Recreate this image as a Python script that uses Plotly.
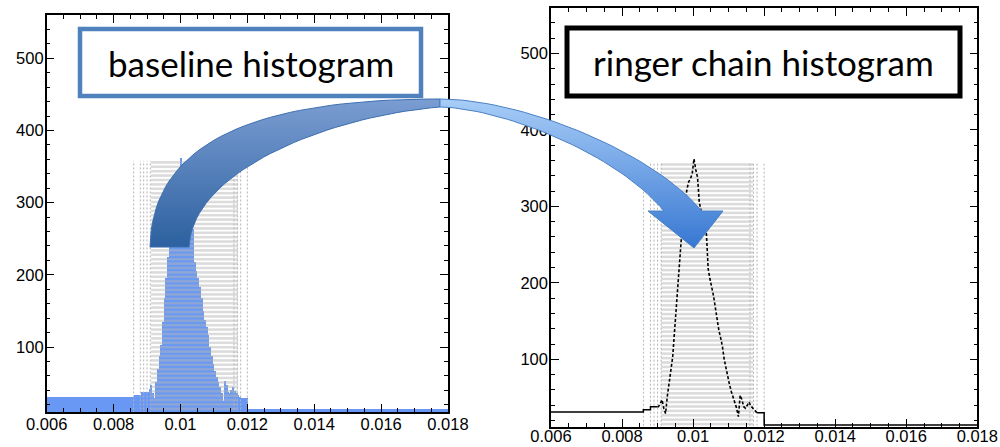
import numpy as np
import plotly.graph_objects as go

W, H = 1000, 447

# ---------------- data ----------------
x_ticks = [0.006, 0.008, 0.010, 0.012, 0.014, 0.016, 0.018]
x_tick_labels = ["0.006", "0.008", "0.01", "0.012", "0.014", "0.016", "0.018"]
y_ticks = [100, 200, 300, 400, 500]
y_tick_labels = ["100", "200", "300", "400", "500"]

outer_left_edges = [0.006, 0.0086, 0.0088, 0.0090]
outer_left_counts = [31, 34, 38]

core_start = 0.0090
core_width = 0.00005
core_counts = [
    38, 42, 47, 36, 29, 52, 70, 88, 103, 135,
    168, 195, 225, 262, 285, 305, 322, 332, 336, 343,
    362, 348, 338, 305, 296, 285, 274, 264, 218, 205,
    195, 183, 168, 150, 138, 128, 117, 100, 88, 76,
    67, 58, 51, 44, 36, 25, 53, 47, 38, 36,
    41, 44, 39, 36, 34, 31,
]

outer_right_edges = [0.0118, 0.0120, 0.0180]
outer_right_counts = [30, 14]

bin_boundary_lines = [0.0086, 0.0088, 0.0089, 0.0090, 0.0091,
                      0.0116, 0.0117, 0.0118, 0.0120]
grid_band_x = [0.0091, 0.0117]
grid_band_y = [12, 358]

label_left = "baseline histogram"
label_right = "ringer chain histogram"

# ------------- decoration geometry (page pixels) -------------
arrow_outer_ctrl = [(150, 247), (152, 135), (270, 99), (440, 99),
                    (520, 99), (650, 150), (702, 211)]
arrow_inner_ctrl = [(189, 247), (192, 170), (330, 116), (440, 107),
                    (500, 108), (615, 152), (664, 211)]
arrow_head = [(723, 211), (694, 248), (648, 211)]
box_left = (80, 29, 421, 96)
box_right = (567, 28, 960, 96)

BLUE = "#6898f4"
GRID = "#b4b4b4"

# ------------- derived histogram arrays -------------
core_counts = np.array(core_counts, dtype=float)
core_edges = core_start + core_width * np.arange(len(core_counts) + 1)
core_centers = 0.5 * (core_edges[:-1] + core_edges[1:])

all_edges = np.concatenate([outer_left_edges[:-1], core_edges, outer_right_edges[1:]])
all_counts = np.concatenate([outer_left_counts, core_counts, outer_right_counts])
centers = 0.5 * (all_edges[:-1] + all_edges[1:])
widths = np.diff(all_edges)

fig = go.Figure()

# ===== left panel =====
fig.add_trace(go.Bar(x=centers, y=all_counts, width=widths,
                     marker=dict(color=BLUE, line=dict(width=0)),
                     xaxis="x", yaxis="y"))


def grid_band(xa, ya):
    fig.add_trace(go.Bar(
        x=[0.5 * (grid_band_x[0] + grid_band_x[1])],
        width=[grid_band_x[1] - grid_band_x[0]],
        y=[grid_band_y[1] - grid_band_y[0]], base=[grid_band_y[0]],
        marker=dict(color="rgba(0,0,0,0)", line=dict(width=0),
                    pattern=dict(shape="-", fgcolor=GRID, bgcolor="rgba(0,0,0,0)",
                                 size=4.4, solidity=0.55)),
        xaxis=xa, yaxis=ya))
    vx, vy = [], []
    for xv in bin_boundary_lines:
        vx += [xv, xv, None]
        vy += [grid_band_y[0] - 4, grid_band_y[1], None]
    fig.add_trace(go.Scatter(x=vx, y=vy, mode="lines",
                             line=dict(color="#b4b4b4", width=1, dash="2px,2px"),
                             xaxis=xa, yaxis=ya))


grid_band("x", "y")

# ===== right panel =====
grid_band("x2", "y2")
fig.add_trace(go.Scatter(x=outer_left_edges, y=outer_left_counts + [outer_left_counts[-1]],
                         mode="lines", line=dict(color="black", width=1.5, shape="hv"),
                         xaxis="x2", yaxis="y2"))
fig.add_trace(go.Scatter(x=[outer_left_edges[-1]] + list(core_centers) + [outer_right_edges[0]],
                         y=[outer_left_counts[-1]] + list(core_counts) + [outer_right_counts[0]],
                         mode="lines", line=dict(color="black", width=1.6, dash="3px,2px"),
                         xaxis="x2", yaxis="y2"))
fig.add_trace(go.Scatter(x=outer_right_edges, y=outer_right_counts + [outer_right_counts[-1]],
                         mode="lines", line=dict(color="black", width=1.5, shape="hv"),
                         xaxis="x2", yaxis="y2"))


# ===== overlay: curved arrow =====
def bez(p0, p1, p2, p3, n=40):
    t = np.linspace(0, 1, n)[:, None]
    p0, p1, p2, p3 = map(np.array, (p0, p1, p2, p3))
    return ((1 - t) ** 3) * p0 + 3 * ((1 - t) ** 2) * t * p1 + 3 * (1 - t) * t * t * p2 + t ** 3 * p3


A1 = bez(*arrow_outer_ctrl[0:4])
A2 = bez(*arrow_outer_ctrl[3:7])
B1 = bez(*arrow_inner_ctrl[0:4])
B2 = bez(*arrow_inner_ctrl[3:7])

left_poly = np.vstack([A1, B1[::-1], A1[:1]])
right_poly = np.vstack([A2, np.array(arrow_head), B2[::-1], A2[:1]])


def up(y):
    return H - np.asarray(y)


fig.add_trace(go.Scatter(
    x=left_poly[:, 0], y=up(left_poly[:, 1]), mode="lines", fill="toself",
    line=dict(color="#3d6fb0", width=1),
    fillgradient=dict(type="vertical", colorscale=[[0, "#2c609f"], [1, "#7a9dd2"]],
                      start=float(up(248)), stop=float(up(99))),
    xaxis="x3", yaxis="y3"))
fig.add_trace(go.Scatter(
    x=right_poly[:, 0], y=up(right_poly[:, 1]), mode="lines", fill="toself",
    line=dict(color="#4a80c4", width=1),
    fillgradient=dict(type="vertical", colorscale=[[0, "#3777d2"], [1, "#a8cdf7"]],
                      start=float(up(248)), stop=float(up(99))),
    xaxis="x3", yaxis="y3"))

# ===== text boxes =====
for (x0, y0, x1, y1), col, lw, txt in [(box_left, "#4f81bd", 4.5, label_left),
                                        (box_right, "black", 5, label_right)]:
    fig.add_shape(type="rect", xref="x3", yref="y3", x0=x0, x1=x1, y0=H - y1, y1=H - y0,
                  line=dict(color=col, width=lw), fillcolor="white", layer="above")
    fig.add_annotation(xref="x3", yref="y3", x=(x0 + x1) / 2, y=H - (y0 + y1) / 2,
                       text=txt, showarrow=False,
                       font=dict(family="Lato", size=35, color="black"))

# ===== axes =====
tickfont = dict(family="Liberation Sans, Arial", size=16.5, color="black")
common = dict(showline=True, linecolor="black", linewidth=1.5, mirror="allticks",
              ticks="inside", ticklen=8, tickwidth=1, tickcolor="black",
              showgrid=False, zeroline=False, tickfont=tickfont, automargin=False)
xcommon = dict(common, range=[0.006, 0.018], tickmode="array", tickvals=x_ticks,
               ticktext=x_tick_labels,
               minor=dict(ticks="inside", ticklen=4, tickcolor="black",
                          tickmode="linear", tick0=0.006, dtick=0.0005, showgrid=False))
ycommon = dict(common, tickmode="array", tickvals=y_ticks, ticktext=y_tick_labels,
               ticklabelstandoff=-2,
               minor=dict(ticks="inside", ticklen=4, tickcolor="black",
                          tickmode="linear", tick0=0, dtick=20, showgrid=False))

fig.update_layout(
    width=W, height=H, margin=dict(l=0, r=0, t=0, b=0, autoexpand=False),
    paper_bgcolor="white", plot_bgcolor="rgba(0,0,0,0)",
    showlegend=False, barmode="overlay", bargap=0,
    xaxis=dict(xcommon, domain=[0.0467, 0.448], anchor="y", ticklabelstandoff=-4),
    yaxis=dict(ycommon, domain=[(H - 412) / H, (H - 15) / H], range=[10, 560], anchor="x"),
    xaxis2=dict(xcommon, domain=[0.551, 0.9773], anchor="y2", ticklabelstandoff=-7),
    yaxis2=dict(ycommon, domain=[(H - 427) / H, (H - 8.3) / H], range=[11.5, 559], anchor="x2"),
    xaxis3=dict(domain=[0, 1], range=[0, W], visible=False, anchor="y3", fixedrange=True),
    yaxis3=dict(domain=[0, 1], range=[0, H], visible=False, anchor="x3", fixedrange=True),
)

fig.write_html("out.html")
